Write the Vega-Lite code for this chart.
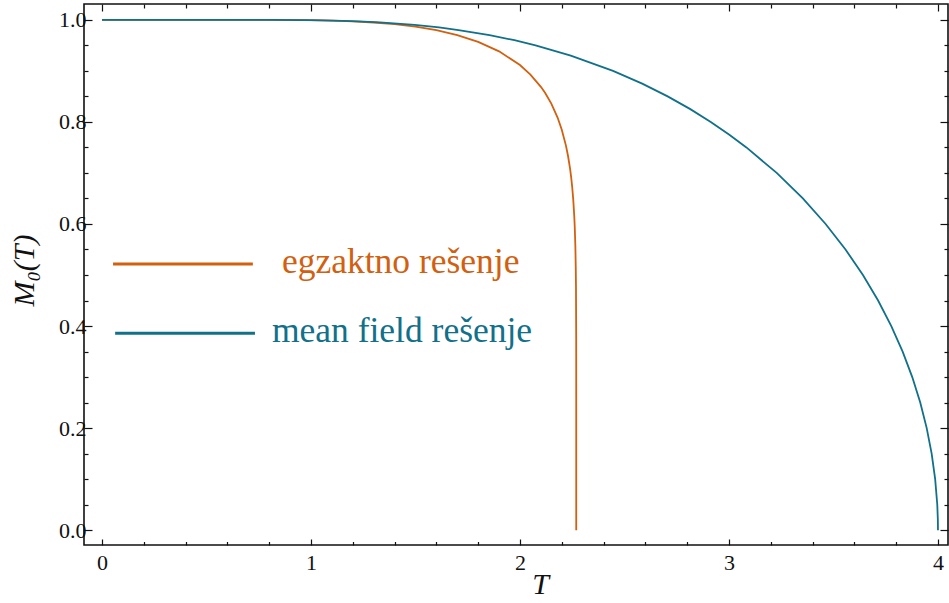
{
  "$schema": "https://vega.github.io/schema/vega-lite/v6.json",
  "width": 864,
  "height": 541,
  "autosize": {"type": "none"},
  "padding": {"left": 84, "top": 4, "right": 1, "bottom": 58},
  "background": "white",
  "config": {
    "view": {"stroke": "#111111", "strokeWidth": 1.6},
    "axis": {"domain": false, "grid": false, "labelFont": "Liberation Serif", "labelFontSize": 22, "labelFontWeight": "normal", "labelColor": "#111111", "titleFont": "Liberation Serif", "titleColor": "#111111", "tickColor": "#111111", "tickWidth": 1.2, "labelOverlap": false, "labelBound": false, "labelFlush": false}
  },
  "datasets": {
    "curves": [
      {"T": 0, "M": 1, "series": "exact"},
      {"T": 0.5, "M": 1, "series": "exact"},
      {"T": 0.8, "M": 0.99991, "series": "exact"},
      {"T": 1.0, "M": 0.99928, "series": "exact"},
      {"T": 1.1, "M": 0.99845, "series": "exact"},
      {"T": 1.2, "M": 0.99703, "series": "exact"},
      {"T": 1.3, "M": 0.99477, "series": "exact"},
      {"T": 1.4, "M": 0.99139, "series": "exact"},
      {"T": 1.5, "M": 0.9865, "series": "exact"},
      {"T": 1.6, "M": 0.97962, "series": "exact"},
      {"T": 1.7, "M": 0.97008, "series": "exact"},
      {"T": 1.8, "M": 0.95685, "series": "exact"},
      {"T": 1.9, "M": 0.9383, "series": "exact"},
      {"T": 2.0, "M": 0.91131, "series": "exact"},
      {"T": 2.05, "M": 0.89276, "series": "exact"},
      {"T": 2.1, "M": 0.86874, "series": "exact"},
      {"T": 2.12, "M": 0.85693, "series": "exact"},
      {"T": 2.15, "M": 0.83573, "series": "exact"},
      {"T": 2.18, "M": 0.80846, "series": "exact"},
      {"T": 2.2, "M": 0.78478, "series": "exact"},
      {"T": 2.22, "M": 0.75353, "series": "exact"},
      {"T": 2.23, "M": 0.73313, "series": "exact"},
      {"T": 2.24, "M": 0.70737, "series": "exact"},
      {"T": 2.245, "M": 0.69124, "series": "exact"},
      {"T": 2.25, "M": 0.67203, "series": "exact"},
      {"T": 2.255, "M": 0.6472, "series": "exact"},
      {"T": 2.26, "M": 0.61363, "series": "exact"},
      {"T": 2.262, "M": 0.59494, "series": "exact"},
      {"T": 2.265, "M": 0.5568, "series": "exact"},
      {"T": 2.267, "M": 0.51275, "series": "exact"},
      {"T": 2.268, "M": 0.47698, "series": "exact"},
      {"T": 2.269, "M": 0.3768, "series": "exact"},
      {"T": 2.2691, "M": 0.342, "series": "exact"},
      {"T": 2.26918, "M": 0.241, "series": "exact"},
      {"T": 2.269184, "M": 0.15, "series": "exact"},
      {"T": 2.269185, "M": 0, "series": "exact"},
      {"T": 0, "M": 1, "series": "mean"},
      {"T": 0.6554, "M": 0.99999, "series": "mean"},
      {"T": 0.8077, "M": 0.9999, "series": "mean"},
      {"T": 0.9641, "M": 0.9995, "series": "mean"},
      {"T": 1.0515, "M": 0.999, "series": "mean"},
      {"T": 1.156, "M": 0.998, "series": "mean"},
      {"T": 1.2269, "M": 0.997, "series": "mean"},
      {"T": 1.3291, "M": 0.995, "series": "mean"},
      {"T": 1.4962, "M": 0.99, "series": "mean"},
      {"T": 1.613, "M": 0.985, "series": "mean"},
      {"T": 1.7061, "M": 0.98, "series": "mean"},
      {"T": 1.8544, "M": 0.97, "series": "mean"},
      {"T": 1.9734, "M": 0.96, "series": "mean"},
      {"T": 2.0745, "M": 0.95, "series": "mean"},
      {"T": 2.2431, "M": 0.93, "series": "mean"},
      {"T": 2.4453, "M": 0.9, "series": "mean"},
      {"T": 2.5849, "M": 0.875, "series": "mean"},
      {"T": 2.7066, "M": 0.85, "series": "mean"},
      {"T": 2.815, "M": 0.825, "series": "mean"},
      {"T": 2.9128, "M": 0.8, "series": "mean"},
      {"T": 3.0018, "M": 0.775, "series": "mean"},
      {"T": 3.0834, "M": 0.75, "series": "mean"},
      {"T": 3.2284, "M": 0.7, "series": "mean"},
      {"T": 3.3535, "M": 0.65, "series": "mean"},
      {"T": 3.4625, "M": 0.6, "series": "mean"},
      {"T": 3.5576, "M": 0.55, "series": "mean"},
      {"T": 3.641, "M": 0.5, "series": "mean"},
      {"T": 3.7136, "M": 0.45, "series": "mean"},
      {"T": 3.7767, "M": 0.4, "series": "mean"},
      {"T": 3.831, "M": 0.35, "series": "mean"},
      {"T": 3.877, "M": 0.3, "series": "mean"},
      {"T": 3.9152, "M": 0.25, "series": "mean"},
      {"T": 3.9461, "M": 0.2, "series": "mean"},
      {"T": 3.9698, "M": 0.15, "series": "mean"},
      {"T": 3.9866, "M": 0.1, "series": "mean"},
      {"T": 3.9967, "M": 0.05, "series": "mean"},
      {"T": 3.99947, "M": 0.02, "series": "mean"},
      {"T": 4, "M": 0, "series": "mean"}
    ],
    "legend": [
      {"x1": 0.053, "x2": 0.722, "y": 0.5216, "tx": 0.861, "label": "egzaktno rešenje", "series": "exact"},
      {"x1": 0.063, "x2": 0.732, "y": 0.386, "tx": 0.813, "label": "mean field rešenje", "series": "mean"}
    ]
  },
  "layer": [
    {
      "data": {"name": "curves"},
      "mark": {"type": "line", "strokeWidth": 1.8, "clip": true},
      "encoding": {
        "x": {"field": "T", "type": "quantitative", "scale": {"domain": [-0.086, 4.048], "nice": false, "zero": false},
          "axis": {"orient": "bottom", "title": "T", "titleFontStyle": "italic", "titleFontWeight": "normal", "titleFontSize": 30, "titleX": 456, "titleY": 48, "titleBaseline": "alphabetic",
            "labelFont": "Liberation Serif", "labelFontSize": 22, "labelFontWeight": "normal",
            "values": [0, 0.2, 0.4, 0.6, 0.8, 1, 1.2, 1.4, 1.6, 1.8, 2, 2.2, 2.4, 2.6, 2.8, 3, 3.2, 3.4, 3.6, 3.8, 4],
            "labelExpr": "abs(datum.value - round(datum.value)) < 0.001 ? format(datum.value, 'd') : ''",
            "tickSize": {"condition": {"test": "abs(datum.value - round(datum.value)) < 0.001", "value": -6}, "value": -3.5},
            "labelPadding": 13}},
        "y": {"field": "M", "type": "quantitative", "scale": {"domain": [-0.029, 1.031], "nice": false, "zero": false},
          "axis": {"orient": "left", "title": "M₀(T)", "titleFontStyle": "italic", "titleFontWeight": "normal", "titleFontSize": 30, "titleX": -51, "titleY": 266, "titleBaseline": "alphabetic", "titleAngle": -90, "titleAlign": "center",
            "labelFont": "Liberation Serif", "labelFontSize": 22, "labelFontWeight": "normal",
            "values": [0, 0.05, 0.1, 0.15, 0.2, 0.25, 0.3, 0.35, 0.4, 0.45, 0.5, 0.55, 0.6, 0.65, 0.7, 0.75, 0.8, 0.85, 0.9, 0.95, 1],
            "labelExpr": "abs(datum.value * 5 - round(datum.value * 5)) < 0.001 ? format(datum.value, '.1f') : ''",
            "tickSize": {"condition": {"test": "abs(datum.value * 5 - round(datum.value * 5)) < 0.001", "value": -8}, "value": -4},
            "labelPadding": 6}},
        "color": {"field": "series", "type": "nominal", "scale": {"domain": ["exact", "mean"], "range": ["#d2600f", "#11708a"]}, "legend": null},
        "order": {"field": "T", "type": "quantitative"}
      }
    },
    {
      "data": {"name": "legend"},
      "mark": {"type": "rule", "strokeWidth": 3},
      "encoding": {
        "x": {"field": "x1", "type": "quantitative",
          "axis": {"orient": "top", "title": null, "labels": false,
            "values": [0, 0.2, 0.4, 0.6, 0.8, 1, 1.2, 1.4, 1.6, 1.8, 2, 2.2, 2.4, 2.6, 2.8, 3, 3.2, 3.4, 3.6, 3.8, 4],
            "tickSize": {"condition": {"test": "abs(datum.value - round(datum.value)) < 0.001", "value": -7}, "value": -4}}},
        "x2": {"field": "x2"},
        "y": {"field": "y", "type": "quantitative",
          "axis": {"orient": "right", "title": null, "labels": false,
            "values": [0, 0.05, 0.1, 0.15, 0.2, 0.25, 0.3, 0.35, 0.4, 0.45, 0.5, 0.55, 0.6, 0.65, 0.7, 0.75, 0.8, 0.85, 0.9, 0.95, 1],
            "tickSize": {"condition": {"test": "abs(datum.value * 5 - round(datum.value * 5)) < 0.001", "value": -8}, "value": -4}}},
        "color": {"field": "series", "type": "nominal", "legend": null}
      }
    },
    {
      "data": {"name": "legend"},
      "mark": {"type": "text", "align": "left", "baseline": "middle", "font": "Liberation Serif", "fontSize": 35.5, "dy": -2},
      "encoding": {
        "x": {"field": "tx", "type": "quantitative", "axis": null},
        "y": {"field": "y", "type": "quantitative", "axis": null},
        "text": {"field": "label"},
        "color": {"field": "series", "type": "nominal", "legend": null}
      }
    }
  ],
  "resolve": {"axis": {"x": "independent", "y": "independent"}}
}
